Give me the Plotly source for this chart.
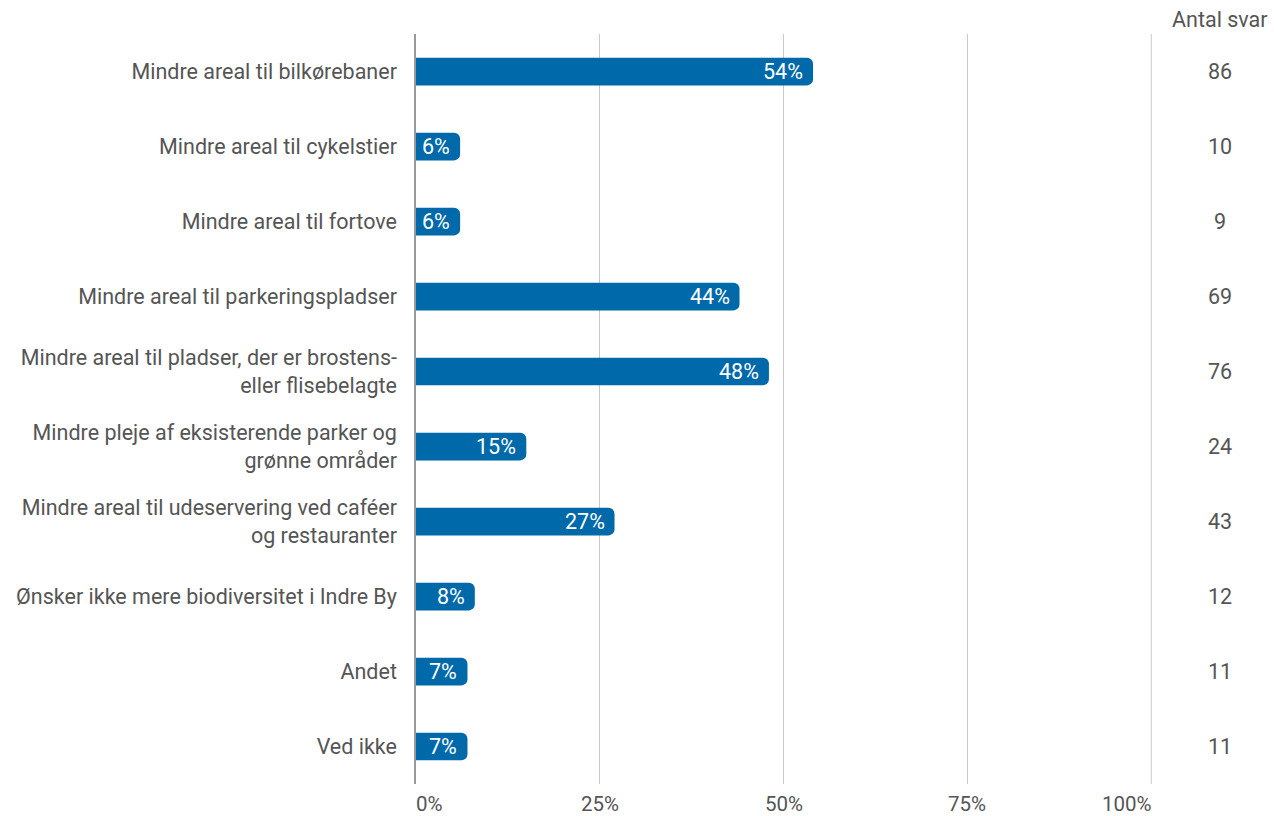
import plotly.graph_objects as go

categories = [
    "Mindre areal til bilkørebaner",
    "Mindre areal til cykelstier",
    "Mindre areal til fortove",
    "Mindre areal til parkeringspladser",
    "Mindre areal til pladser, der er brostens-<br>eller flisebelagte",
    "Mindre pleje af eksisterende parker og<br>grønne områder",
    "Mindre areal til udeservering ved caféer<br>og restauranter",
    "Ønsker ikke mere biodiversitet i Indre By",
    "Andet",
    "Ved ikke",
]
percent = [54, 6, 6, 44, 48, 15, 27, 8, 7, 7]
antal_svar = [86, 10, 9, 69, 76, 24, 43, 12, 11, 11]
tick_values = [0, 25, 50, 75, 100]
tick_labels = ["0%", "25%", "50%", "75%", "100%"]

BAR_COLOR = "#0069aa"
TEXT_COLOR = "#555555"
GRID_COLOR = "#c8c8c8"
FONT = "Roboto"

fig = go.Figure(
    go.Bar(
        x=percent,
        y=categories,
        orientation="h",
        marker=dict(color=BAR_COLOR, line=dict(width=0)),
        width=0.37,
        hoverinfo="skip",
    )
)

# Value labels at the end of each bar
for cat, p in zip(categories, percent):
    fig.add_annotation(
        x=p, xref="x", y=cat, yref="y",
        text=f"{p}%", showarrow=False, xanchor="right", yanchor="middle",
        xshift=-8,
        font=dict(family=FONT, size=21.5, color="white"),
    )

# Count column on the right
for cat, n in zip(categories, antal_svar):
    fig.add_annotation(
        x=1.092, xref="paper", y=cat, yref="y",
        text=str(n), showarrow=False, xanchor="center",
        font=dict(family=FONT, size=21.5, color=TEXT_COLOR),
    )
fig.add_annotation(
    x=1.092, xref="paper", y=1.019, yref="paper",
    text="Antal svar", showarrow=False, xanchor="center", yanchor="middle",
    font=dict(family=FONT, size=21.5, color=TEXT_COLOR),
)

# Percentage tick labels, end labels kept inside the plot width
for i, (v, lab) in enumerate(zip(tick_values, tick_labels)):
    anchor = "left" if i == 0 else ("right" if i == len(tick_values) - 1 else "center")
    fig.add_annotation(
        x=v, xref="x", y=-0.027, yref="paper",
        text=lab, showarrow=False, xanchor=anchor, yanchor="middle",
        xshift=(-2 if anchor == "left" else (3 if anchor == "right" else 0)),
        font=dict(family=FONT, size=20.5, color=TEXT_COLOR),
    )

# Gridline at the right end of the scale
fig.add_shape(
    type="line", xref="x", yref="paper",
    x0=tick_values[-1], x1=tick_values[-1], y0=0, y1=1,
    line=dict(color=GRID_COLOR, width=1), layer="below",
)

fig.update_layout(
    width=1274,
    height=816,
    margin=dict(l=416, r=122, t=34, b=32, autoexpand=False),
    paper_bgcolor="white",
    plot_bgcolor="white",
    barcornerradius=6,
    showlegend=False,
    font=dict(family=FONT, color=TEXT_COLOR),
    xaxis=dict(
        range=[0, 100.1],
        tickvals=tick_values,
        showticklabels=False,
        showgrid=True,
        gridcolor=GRID_COLOR,
        gridwidth=1,
        zeroline=False,
        showline=False,
        ticks="",
        automargin=False,
        fixedrange=True,
    ),
    yaxis=dict(
        autorange="reversed",
        showgrid=False,
        zeroline=False,
        showline=True,
        linecolor="#999999",
        linewidth=1.5,
        ticks="",
        ticklabelstandoff=13,
        tickfont=dict(family=FONT, size=21.5, color=TEXT_COLOR),
        automargin=False,
        fixedrange=True,
    ),
)

fig.write_html("out.html")
